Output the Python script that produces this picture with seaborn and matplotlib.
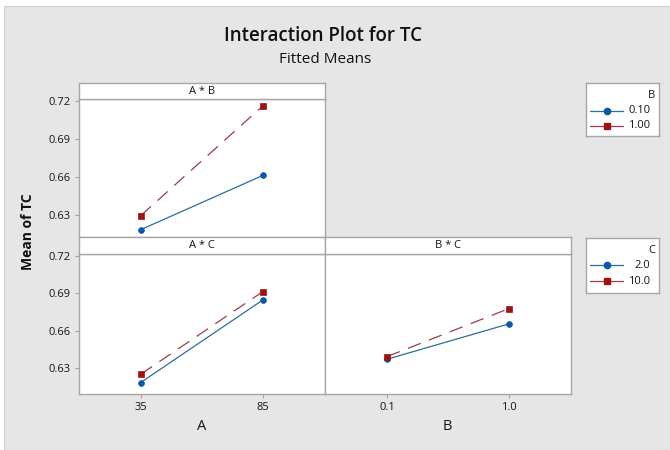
import numpy as np
import pandas as pd
import matplotlib
matplotlib.use("Agg")
import matplotlib.pyplot as plt
from matplotlib.patches import Rectangle
from matplotlib.lines import Line2D
import seaborn as sns

# valeurs (moyennes ajustees de TC)
a_levels = ["35", "85"]
b_levels = ["0.1", "1.0"]
ab_b010 = [0.6184, 0.6613]
ab_b100 = [0.6295, 0.7163]
ac_c2 = [0.6186, 0.6846]
ac_c10 = [0.6252, 0.6913]
bc_c2 = [0.6372, 0.6654]
bc_c10 = [0.6393, 0.6776]
b_labels = ["0.10", "1.00"]
c_labels = ["2.0", "10.0"]
y_ticks = [0.63, 0.66, 0.69, 0.72]

sns.set_style("white")
plt.rcParams["font.family"] = ["Open Sans", "DejaVu Sans"]

W, H = 670, 450
BG = "#e6e6e6"
FRAME = "#a6a6a6"
TXT = "#151515"
BLUE, RED = "#0a58a8", "#a01212"
BLUE_LINE, RED_LINE = "#2a6e9a", "#9c3c4a"

fig = plt.figure(figsize=(W / 100, H / 100), dpi=100, facecolor="white")
fig.patches.append(Rectangle((4 / W, 0), 1 - 4 / W, 1 - 6 / H, transform=fig.transFigure,
                             facecolor=BG, edgecolor="#d0d0d0", lw=0.8, zorder=-10))


def px_axes(x0, y0, x1, y1):
    return fig.add_axes([x0 / W, 1 - y1 / H, (x1 - x0) / W, (y1 - y0) / H])


def frame(ax):
    ax.set_facecolor("white")
    for s in ax.spines.values():
        s.set_visible(True)
        s.set_color(FRAME)
        s.set_linewidth(1.0)


def strip(x0, y0, x1, y1, label):
    sax = px_axes(x0, y0, x1, y1)
    frame(sax)
    sax.set_xticks([])
    sax.set_yticks([])
    sax.text(0.5, 0.5, label, ha="center", va="center", fontsize=8, color=TXT,
             transform=sax.transAxes)


def panel(ax, levels, y1, y2, names, legend_name, xlab, ylim):
    df = pd.DataFrame({
        "x": levels * 2,
        "TC": y1 + y2,
        legend_name: [names[0]] * len(levels) + [names[1]] * len(levels),
    })
    sns.pointplot(data=df, x="x", y="TC", hue=legend_name, order=levels, hue_order=names,
                  palette=[BLUE, RED], markers=["o", "s"], linestyles=["-", "--"],
                  errorbar=None, legend=False, markersize=4.5, linewidth=0.9, ax=ax)
    # restyle each series line according to its marker
    for line in ax.lines:
        mk = line.get_marker()
        line.set_linewidth(0.9)
        if mk == "o":
            line.set_color(BLUE_LINE)
            line.set_markerfacecolor(BLUE)
            line.set_markeredgecolor(BLUE)
            line.set_markersize(4.2)
        elif mk == "s":
            line.set_color(RED_LINE)
            line.set_markerfacecolor(RED)
            line.set_markeredgecolor(RED)
            line.set_markersize(4.8)
            line.set_linestyle((0, (11, 7)))
        line.set_markeredgewidth(0.5)
    frame(ax)
    ax.set_xlim(-0.51, 1.51)
    ax.set_ylim(*ylim)
    ax.set_xlabel(xlab, fontsize=10.5, color=TXT, labelpad=4)
    ax.set_ylabel("")
    ax.tick_params(axis="both", which="both", length=3, width=0.8, color=FRAME,
                   labelsize=8, labelcolor=TXT, pad=3)


# panneau A * B
ax_ab = px_axes(78.5, 99, 325, 237)
panel(ax_ab, a_levels, ab_b010, ab_b100, b_labels, "B", "", (0.6126, 0.7218))
ax_ab.set_yticks(y_ticks)
ax_ab.set_yticklabels([f"{v:.2f}" for v in y_ticks])
ax_ab.tick_params(axis="y", left=True)
ax_ab.set_xticks([])
strip(78.5, 83.5, 325, 99, "A * B")

# panneau A * C
ax_ac = px_axes(78.5, 254, 325, 394)
panel(ax_ac, a_levels, ac_c2, ac_c10, c_labels, "C", "A", (0.6094, 0.7214))
ax_ac.set_yticks(y_ticks)
ax_ac.set_yticklabels([f"{v:.2f}" for v in y_ticks])
ax_ac.tick_params(axis="y", left=True)
ax_ac.tick_params(axis="x", bottom=True)
strip(78.5, 237, 325, 254, "A * C")

# panneau B * C
ax_bc = px_axes(325, 254, 570.5, 394)
panel(ax_bc, b_levels, bc_c2, bc_c10, c_labels, "C", "B", (0.6094, 0.7214))
ax_bc.set_yticks([])
ax_bc.tick_params(axis="x", bottom=True)
strip(325, 237, 570.5, 254, "B * C")

fig.text(28 / W, 1 - 232 / H, "Mean of TC", rotation=90, ha="center", va="center",
         fontsize=10, fontweight="bold", color="#111111")
fig.text(323.5 / W, 1 - 36 / H, "Interaction Plot for TC", ha="center", va="center",
         fontsize=13.5, fontweight="semibold", color="#111111")
fig.text(325 / W, 1 - 59 / H, "Fitted Means", ha="center", va="center",
         fontsize=11, color="#111111")


# legendes
def legend_box(y0, y1, title, names, rows):
    lax = px_axes(585.5, y0, 659, y1)
    frame(lax)
    lax.set_xticks([])
    lax.set_yticks([])
    lax.set_xlim(585.5, 659)
    lax.set_ylim(y1, y0)
    lax.text(655, rows[0], title, ha="right", va="center", fontsize=8, color=TXT)
    for name, yy, mc, lc, mk, ms in zip(names, rows[1:], [BLUE, RED], [BLUE_LINE, RED_LINE],
                                        ["o", "s"], [4.5, 5]):
        lax.add_line(Line2D([590, 623], [yy, yy], color=lc, lw=0.9))
        lax.plot([606.5], [yy], marker=mk, color=mc, markersize=ms, ls="none")
        lax.text(650.5, yy, name, ha="right", va="center", fontsize=8, color=TXT)


legend_box(83, 136, "B", b_labels, [96, 110.5, 126])
legend_box(238, 293, "C", c_labels, [250.5, 265.5, 281.5])

fig.savefig("out.png", dpi=100, facecolor=fig.get_facecolor())
